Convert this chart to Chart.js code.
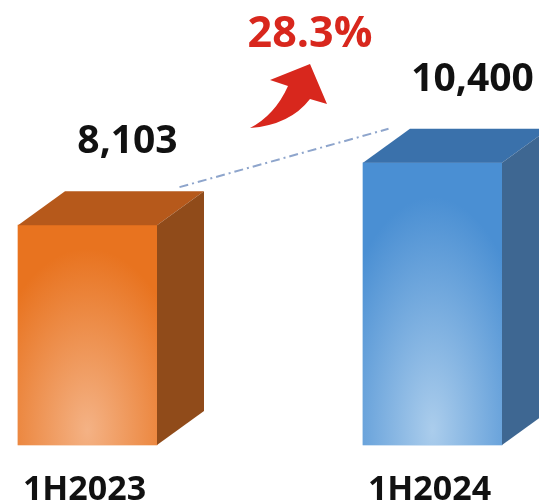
<!DOCTYPE html>
<html>
<head>
<meta charset="utf-8">
<script src="https://cdn.jsdelivr.net/npm/chart.js@4.4.0/dist/chart.umd.min.js"></script>
<style>
  html, body { margin: 0; padding: 0; background: #fff; }
  canvas { display: block; }
</style>
</head>
<body>
<canvas id="chart" width="539" height="503"></canvas>
<script>
// Half-year totals
const categories = ['1H2023', '1H2024'];
const totals = [8103, 10400];
const yMax = 16400;

const FONT = '"Open Sans", "Noto Sans", sans-serif';
const DEPTH_X = 47;
const DEPTH_Y = -34;

// Shades for front (light centre -> edge), top and side faces
const palettes = [
  { light: '#f4b285', base: '#e8731f', top: '#b6591b', side: '#904b1a' },
  { light: '#abcdec', base: '#4a8fd3', top: '#3a71ab', side: '#3e6792' }
];

const growth = ((totals[1] / totals[0] - 1) * 100).toFixed(1) + '%';

function fmt(v) {
  return v.toLocaleString('en-US');
}

// Turns the flat bars into boxes and adds the labels
const bar3d = {
  id: 'bar3d',
  afterDatasetsDraw(chart) {
    const ctx = chart.ctx;
    const bars = chart.getDatasetMeta(0).data;
    bars.forEach((bar, i) => {
      const p = palettes[i];
      const w = bar.width;
      const l = bar.x - w / 2;
      const r = bar.x + w / 2;
      const t = bar.y;
      const b = bar.base;
      const h = b - t;

      // front face, glowing towards the bottom
      ctx.save();
      ctx.beginPath();
      ctx.rect(l, t, w, h);
      ctx.clip();
      ctx.translate(bar.x, b - 15);
      ctx.scale(1, h / w * 1.1);
      const g = ctx.createRadialGradient(0, 0, 0, 0, 0, w * 0.75);
      g.addColorStop(0, p.light);
      g.addColorStop(1, p.base);
      ctx.fillStyle = g;
      ctx.fillRect(-w, -w * 2, w * 2, w * 2.5);
      ctx.restore();

      // top face
      ctx.beginPath();
      ctx.moveTo(l, t);
      ctx.lineTo(l + DEPTH_X, t + DEPTH_Y);
      ctx.lineTo(r + DEPTH_X, t + DEPTH_Y);
      ctx.lineTo(r, t);
      ctx.closePath();
      ctx.fillStyle = p.top;
      ctx.fill();

      // side face
      ctx.beginPath();
      ctx.moveTo(r, t);
      ctx.lineTo(r + DEPTH_X, t + DEPTH_Y);
      ctx.lineTo(r + DEPTH_X, b + DEPTH_Y);
      ctx.lineTo(r, b);
      ctx.closePath();
      ctx.fillStyle = p.side;
      ctx.fill();
    });
  },
  afterDraw(chart) {
    const ctx = chart.ctx;
    const bars = chart.getDatasetMeta(0).data;
    const a = bars[0];
    const c = bars[1];

    // dash-dot trend line between the two tops
    ctx.save();
    ctx.strokeStyle = '#8ea5cc';
    ctx.lineWidth = 2;
    ctx.setLineDash([9, 4, 2, 4]);
    ctx.beginPath();
    ctx.moveTo(a.x + 92, a.y - 38);
    ctx.lineTo(c.x - 44, c.y - 34);
    ctx.stroke();
    ctx.restore();

    // value labels
    ctx.save();
    ctx.fillStyle = '#111';
    ctx.font = 'bold 39px ' + FONT;
    ctx.textAlign = 'center';
    ctx.textBaseline = 'alphabetic';
    bars.forEach((bar, i) => {
      ctx.fillText(fmt(totals[i]), bar.x + 40, bar.y - 72);
    });

    // category labels
    ctx.font = 'bold 34px ' + FONT;
    bars.forEach((bar, i) => {
      ctx.fillText(chart.data.labels[i], bar.x - 3, 500);
    });

    // growth figure and arrow
    const mx = (a.x + c.x) / 2;
    ctx.fillStyle = '#d8271d';
    ctx.font = 'bold 43px ' + FONT;
    ctx.fillText(growth, mx + 50, 47);

    ctx.translate(mx, 0);
    ctx.beginPath();
    ctx.moveTo(-10, 128);
    ctx.quadraticCurveTo(30, 125, 50, 99);
    ctx.lineTo(67, 104);
    ctx.lineTo(50, 64);
    ctx.lineTo(10, 80);
    ctx.lineTo(28, 86);
    ctx.quadraticCurveTo(15, 115, -10, 128);
    ctx.closePath();
    ctx.fill();
    ctx.restore();
  }
};

new Chart(document.getElementById('chart'), {
  type: 'bar',
  data: {
    labels: categories,
    datasets: [{
      data: totals,
      backgroundColor: palettes.map(p => p.base),
      borderWidth: 0,
      barThickness: 139,
      clip: false
    }]
  },
  options: {
    responsive: false,
    animation: false,
    devicePixelRatio: 1,
    layout: { padding: { left: 87.5, right: 106.5, top: 0, bottom: 58 } },
    plugins: {
      legend: { display: false },
      tooltip: { enabled: false }
    },
    scales: {
      x: { display: false, offset: false },
      y: { display: false, min: 0, max: yMax }
    }
  },
  plugins: [bar3d]
});
</script>
</body>
</html>
